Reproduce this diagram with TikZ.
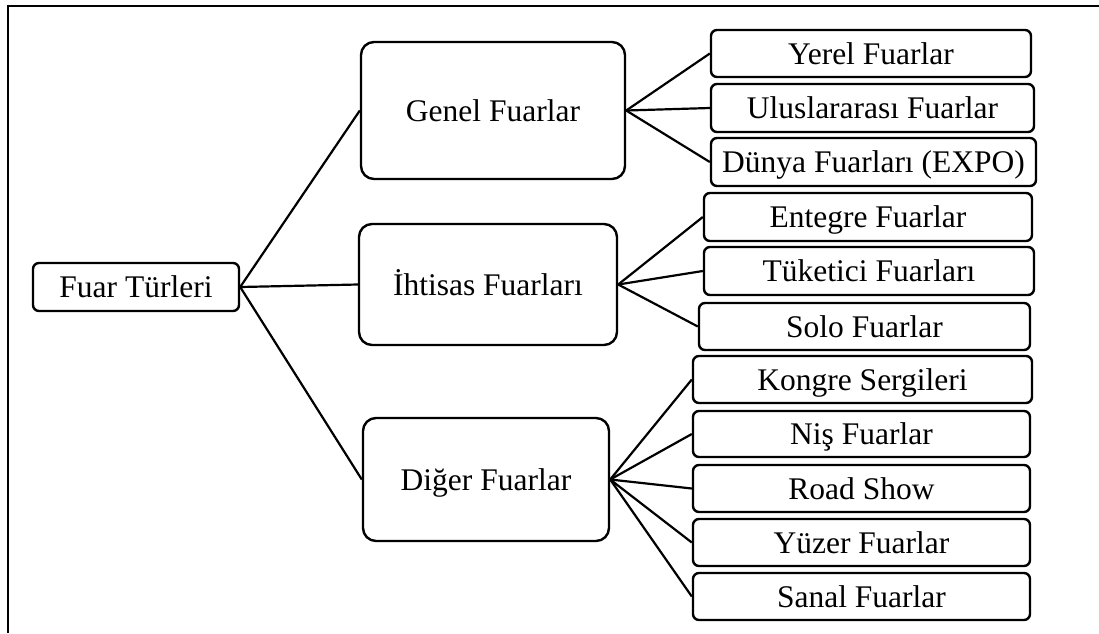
\documentclass[tikz,border=0pt]{standalone}
\usepackage{fontspec}
\setmainfont{Liberation Serif}
\begin{document}
\begin{tikzpicture}[x=1pt,y=-1pt,
  every node/.style={font=\fontsize{31.5}{38}\selectfont, inner sep=0pt, text height=21pt, text depth=0pt, align=center},
  rootbox/.style={draw, line width=2.4pt, rounded corners=6pt},
  bigbox/.style={draw, line width=2.4pt, rounded corners=13pt},
  leafbox/.style={draw, line width=2.4pt, rounded corners=6pt},
  conn/.style={line width=2.2pt}]
\useasboundingbox (0,0) rectangle (1099,633);
\draw[line width=2.4pt] (8,633) -- (8,6) -- (1099,6);
\node[rootbox, minimum width=206pt, minimum height=48pt] (root) at (136,287) {Fuar Türleri};
\node[bigbox, minimum width=264pt, minimum height=137pt] (genel) at (493,110.5) {Genel Fuarlar};
\node[bigbox, minimum width=258pt, minimum height=121pt] (ihtisas) at (488,284.5) {İhtisas Fuarları};
\node[bigbox, minimum width=246pt, minimum height=123pt] (diger) at (486,479.5) {Diğer Fuarlar};
\node[leafbox, minimum width=320pt, minimum height=47pt] (yerel) at (871,53.5) {Yerel Fuarlar};
\node[leafbox, minimum width=323pt, minimum height=48pt] (ulus) at (872.5,108) {Uluslararası Fuarlar};
\node[leafbox, minimum width=325pt, minimum height=48pt] (dunya) at (873.5,162) {Dünya Fuarları (EXPO)};
\node[leafbox, minimum width=328pt, minimum height=48pt] (entegre) at (868,217) {Entegre Fuarlar};
\node[leafbox, minimum width=330pt, minimum height=48pt] (tuketici) at (869,271) {Tüketici Fuarları};
\node[leafbox, minimum width=331pt, minimum height=47pt] (solo) at (864.5,326.5) {Solo Fuarlar};
\node[leafbox, minimum width=339pt, minimum height=47pt] (kongre) at (862.5,379.5) {Kongre Sergileri};
\node[leafbox, minimum width=337pt, minimum height=46pt] (nis) at (861.5,434) {Niş Fuarlar};
\node[leafbox, minimum width=337pt, minimum height=47pt] (road) at (861.5,488.5) {Road Show};
\node[leafbox, minimum width=337pt, minimum height=47pt] (yuzer) at (861.5,542.5) {Yüzer Fuarlar};
\node[leafbox, minimum width=337pt, minimum height=47pt] (sanal) at (861.5,596.5) {Sanal Fuarlar};
\foreach \c in {genel,ihtisas,diger} \draw[conn] (root.east) -- (\c.west);
\foreach \c in {yerel,ulus,dunya} \draw[conn] (genel.east) -- (\c.west);
\foreach \c in {entegre,tuketici,solo} \draw[conn] (ihtisas.east) -- (\c.west);
\foreach \c in {kongre,nis,road,yuzer,sanal} \draw[conn] (diger.east) -- (\c.west);
\end{tikzpicture}
\end{document}
